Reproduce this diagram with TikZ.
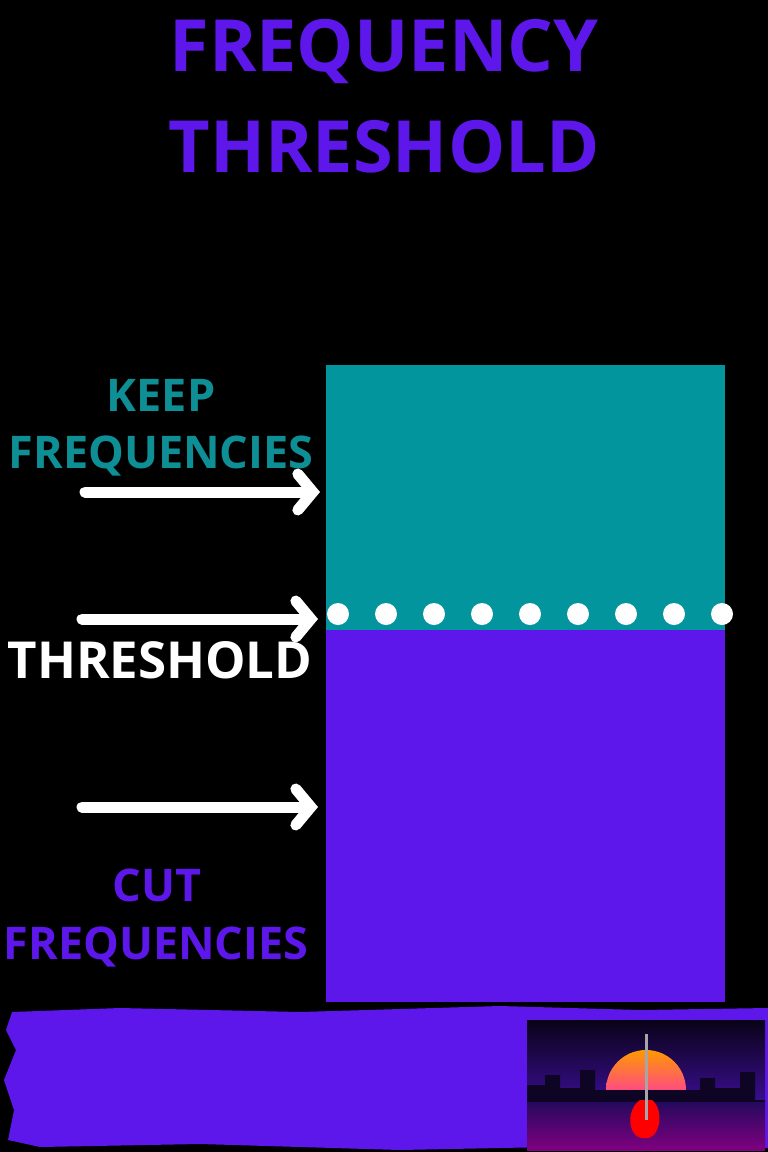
\documentclass[tikz,border=0pt]{standalone}
\usepackage{fontspec}
\setmainfont{Open Sans}
\usetikzlibrary{arrows.meta}
\definecolor{teal1}{HTML}{03959D}
\definecolor{purp}{HTML}{5E17EB}
\definecolor{tealtxt}{HTML}{0E8F95}
\begin{document}
\begin{tikzpicture}[x=1pt,y=-1pt,
 lbl/.style={font=\fontsize{45}{45}\selectfont\bfseries,inner sep=0},
 ttl/.style={font=\fontsize{72}{72}\selectfont\bfseries,text=purp,inner sep=0},
 arr/.style={white,line width=11pt,line cap=round,-{Straight Barb[length=15pt,width=36pt,line width=11pt,line cap=round]}}]
\fill[black] (0,0) rectangle (768,1152);
\useasboundingbox (0,0) rectangle (768,1152);
\node[ttl] (t1) at (384,52) {FREQUENCY};
\node[ttl] (t2) at (384,147) {THRESHOLD};
\fill[teal1] (326,365) rectangle (725,630);
\fill[purp] (326,630) rectangle (725,1002);
\foreach \i in {0,...,8} \fill[white] (338+48*\i,614) circle (11);
\node[lbl,text=tealtxt] (k1) at (161,395) {KEEP};
\node[lbl,text=tealtxt] (k2) at (161,456) {FREQUENCIES};
\node[lbl,text=white,font=\fontsize{51}{51}\selectfont\bfseries] (th) at (160,660) {THRESHOLD};
\node[lbl,text=purp] (c1) at (157,885) {CUT};
\node[lbl,text=purp] (c2) at (156,947) {FREQUENCIES};
\coordinate (a1s) at (85,492); \coordinate (a1e) at (320,492);
\coordinate (a2s) at (82,619); \coordinate (a2e) at (318,619);
\coordinate (a3s) at (82,807); \coordinate (a3e) at (318,807);
\draw[arr] (a1s) -- (a1e);
\draw[arr] (a2s) -- (a2e);
\draw[arr] (a3s) -- (a3e);
% brush band
\fill[purp] (12,1012) -- (120,1008) -- (300,1012) -- (500,1006) -- (640,1010) -- (768,1008)
 -- (768,1148) -- (600,1146) -- (400,1150) -- (200,1144) -- (40,1147) -- (8,1140)
 -- (14,1110) -- (4,1080) -- (16,1050) -- (6,1030) -- cycle;
% picture
\begin{scope}
\clip (527,1020) rectangle (765,1150);
\shade[top color=black!90!purp,bottom color=purp!60!black] (527,1020) rectangle (765,1100);
\shade[top color=orange!80!yellow,bottom color=magenta] (646,1090) circle (40);
\fill[black!85!purp] (527,1100) -- (527,1085) -- (545,1085) -- (545,1075) -- (560,1075) -- (560,1088) -- (580,1088) -- (580,1070) -- (595,1070) -- (595,1090) -- (700,1090) -- (700,1078) -- (715,1078) -- (715,1088) -- (740,1088) -- (740,1072) -- (755,1072) -- (755,1100) -- (765,1100) -- (765,1105) -- (527,1105) -- cycle;
\shade[top color=purp!40!black,bottom color=magenta!50!black] (527,1102) rectangle (765,1150);
\fill[red] (640,1100) .. controls (625,1110) and (628,1140) .. (645,1138) .. controls (660,1140) and (665,1110) .. (652,1100) -- cycle;
\draw[gray!70,line width=3pt] (646,1034) -- (646,1120);
\end{scope}
\end{tikzpicture}
\end{document}
